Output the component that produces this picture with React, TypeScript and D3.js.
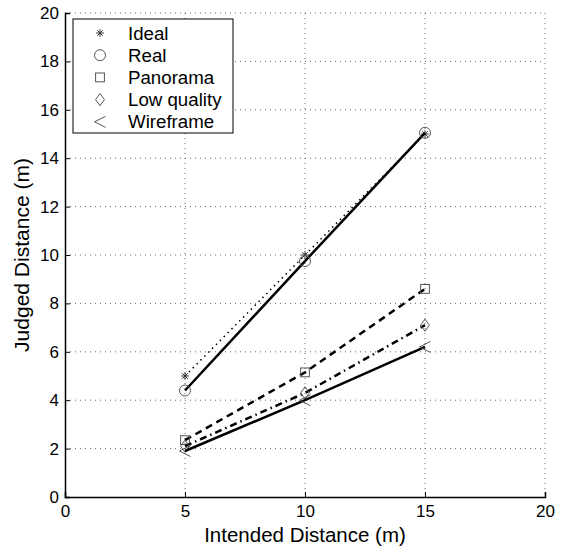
import { useEffect, useRef } from 'react';
import * as d3 from 'd3';

// data
const intended = [5, 10, 15];
const ideal = [5, 10, 15];
const real = [4.4, 9.75, 15.05];
const panorama = [2.35, 5.15, 8.6];
const lowQuality = [2.1, 4.3, 7.1];
const wireframe = [1.9, 4.0, 6.2];
const xTicks = [0, 5, 10, 15, 20];
const yTicks = [0, 2, 4, 6, 8, 10, 12, 14, 16, 18, 20];

const series = [
  { name: 'Ideal', values: ideal, marker: 'star', dash: '1.5,4', width: 1.5 },
  { name: 'Real', values: real, marker: 'circle', dash: null, width: 2.5 },
  { name: 'Panorama', values: panorama, marker: 'square', dash: '7,5', width: 2.5 },
  { name: 'Low quality', values: lowQuality, marker: 'diamond', dash: '7,4,1.5,4', width: 2.5 },
  { name: 'Wireframe', values: wireframe, marker: 'triangle', dash: null, width: 2.5 },
];

const drawMarker = (g, type, cx, cy) => {
  const s = 5.5;
  const stroke = '#555';
  if (type === 'star') {
    g.append('path')
      .attr('d', `M${cx - s * 0.7},${cy}H${cx + s * 0.7}M${cx},${cy - s * 0.7}V${cy + s * 0.7}M${cx - s * 0.5},${cy - s * 0.5}L${cx + s * 0.5},${cy + s * 0.5}M${cx - s * 0.5},${cy + s * 0.5}L${cx + s * 0.5},${cy - s * 0.5}`)
      .attr('stroke', '#333').attr('stroke-width', 1).attr('fill', 'none');
  } else if (type === 'circle') {
    g.append('circle').attr('cx', cx).attr('cy', cy).attr('r', s)
      .attr('stroke', stroke).attr('stroke-width', 1).attr('fill', 'none');
  } else if (type === 'square') {
    g.append('rect').attr('x', cx - s * 0.8).attr('y', cy - s * 0.8).attr('width', s * 1.6).attr('height', s * 1.6)
      .attr('stroke', stroke).attr('stroke-width', 1).attr('fill', 'none');
  } else if (type === 'diamond') {
    g.append('path').attr('d', `M${cx},${cy - s * 1.1}L${cx + s * 0.8},${cy}L${cx},${cy + s * 1.1}L${cx - s * 0.8},${cy}Z`)
      .attr('stroke', stroke).attr('stroke-width', 1).attr('fill', 'none');
  } else if (type === 'triangle') {
    g.append('path').attr('d', `M${cx + s},${cy - s}L${cx - s},${cy}L${cx + s},${cy + s}`)
      .attr('stroke', stroke).attr('stroke-width', 1).attr('fill', 'none');
  }
};

const App = () => {
  const svgRef = useRef(null);

  useEffect(() => {
    const margin = { top: 13, right: 20, bottom: 51, left: 65 };
    const W = 565, H = 548;
    const width = W - margin.left - margin.right;
    const height = H - margin.top - margin.bottom;

    const root = d3.select(svgRef.current);
    root.selectAll('*').remove();
    const svg = root.append('g').attr('transform', `translate(${margin.left},${margin.top})`);

    const x = d3.scaleLinear().domain([0, 20]).range([0, width]);
    const y = d3.scaleLinear().domain([0, 20]).range([height, 0]);

    // grid
    svg.append('g').selectAll('line').data(xTicks.slice(1)).enter().append('line')
      .attr('x1', d => x(d)).attr('x2', d => x(d)).attr('y1', 0).attr('y2', height)
      .attr('stroke', '#666').attr('stroke-width', 1).attr('stroke-dasharray', '1,4');
    svg.append('g').selectAll('line').data(yTicks.slice(1)).enter().append('line')
      .attr('x1', 0).attr('x2', width).attr('y1', d => y(d)).attr('y2', d => y(d))
      .attr('stroke', '#666').attr('stroke-width', 1).attr('stroke-dasharray', '1,4');

    // axes
    const font = 'Liberation Sans, Arial, sans-serif';
    const xAxis = svg.append('g').attr('transform', `translate(0,${height})`)
      .call(d3.axisBottom(x).tickValues(xTicks).tickSize(-5).tickPadding(8).tickFormat(d3.format('d')));
    const yAxis = svg.append('g')
      .call(d3.axisLeft(y).tickValues(yTicks).tickSize(-5).tickPadding(6).tickFormat(d3.format('d')));
    [xAxis, yAxis].forEach(a => {
      a.select('.domain').attr('stroke', '#000').attr('stroke-width', 1.5);
      a.selectAll('.tick line').attr('stroke', '#000');
      a.selectAll('text').style('font-family', font).style('font-size', '17px').attr('fill', '#000');
    });
    yAxis.selectAll('.tick').filter(d => d === 20).select('line').remove();

    svg.append('text').attr('x', width / 2).attr('y', height + 45)
      .attr('text-anchor', 'middle').style('font-family', font).style('font-size', '20.5px')
      .text('Intended Distance (m)');
    svg.append('text').attr('transform', `translate(-36,${height / 2}) rotate(-90)`)
      .attr('text-anchor', 'middle').style('font-family', font).style('font-size', '21px')
      .text('Judged Distance (m)');

    // lines
    const line = d3.line().x(d => x(d[0])).y(d => y(d[1]));
    series.forEach(s => {
      const pts = intended.map((v, i) => [v, s.values[i]]);
      svg.append('path').datum(pts)
        .attr('fill', 'none').attr('stroke', '#000')
        .attr('stroke-width', s.width)
        .attr('stroke-dasharray', s.dash)
        .attr('d', line);
      const mg = svg.append('g');
      pts.forEach(p => drawMarker(mg, s.marker, x(p[0]), y(p[1])));
    });

    // legend
    const lg = svg.append('g').attr('transform', 'translate(8,6)');
    lg.append('rect').attr('width', 160).attr('height', 114)
      .attr('fill', '#fff').attr('stroke', '#000').attr('stroke-width', 1);
    series.forEach((s, i) => {
      const cy = 14 + i * 22.2;
      drawMarker(lg, s.marker, 27, cy);
      lg.append('text').attr('x', 55).attr('y', cy + 6.5)
        .style('font-family', font).style('font-size', '18.7px').text(s.name);
    });
  }, []);

  return <svg ref={svgRef} width={565} height={548} style={{ position: 'absolute', left: 0, top: 0 }}></svg>;
};

export default App;
